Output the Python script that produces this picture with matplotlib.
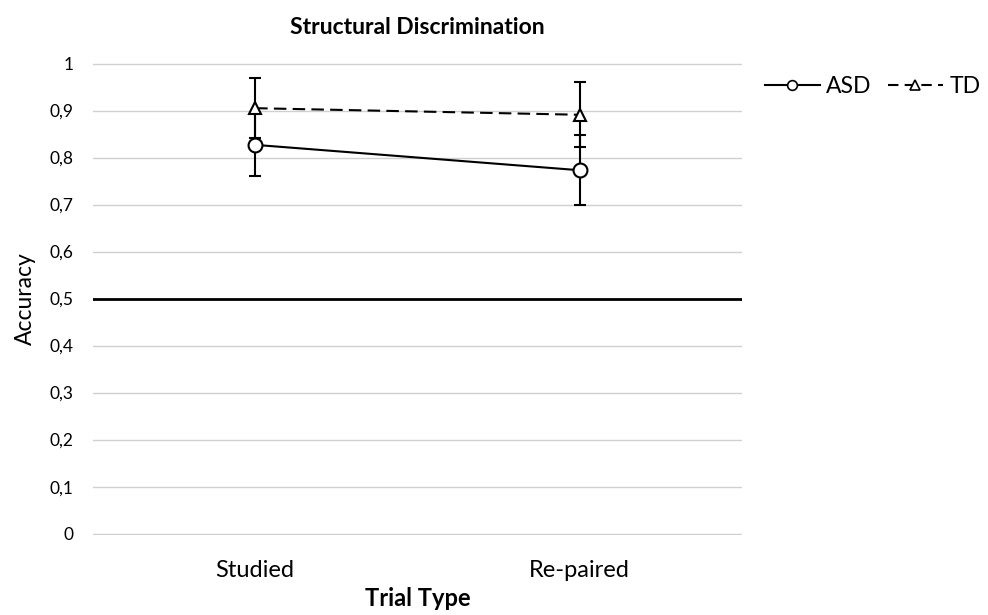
import numpy as np
import matplotlib.pyplot as plt
from matplotlib.lines import Line2D

plt.rc("font", family=["Lato", "DejaVu Sans"])

categories = ["Studied", "Re-paired"]
asd_mean = [0.827, 0.773]
asd_err = [0.067, 0.075]
td_mean = [0.905, 0.891]
td_err = [0.064, 0.069]
yticks = np.arange(0, 1.01, 0.1)
ytick_labels = ["0", "0,1", "0,2", "0,3", "0,4", "0,5", "0,6", "0,7", "0,8", "0,9", "1"]
chance = 0.5

fig = plt.figure(figsize=(9.88, 6.15), dpi=100)
ax = fig.add_axes([0.094, 0.130, 0.657, 0.769])

x = np.arange(len(categories))
dash = (0, (6, 3))

ax.errorbar(x, asd_mean, yerr=asd_err, color="black", lw=1.5, capsize=4,
            marker="o", markersize=10, markerfacecolor="white",
            markeredgewidth=1.5, zorder=4)
ax.errorbar(x, td_mean, yerr=td_err, color="black", lw=1.5, capsize=4,
            marker="^", markersize=9, markerfacecolor="white",
            markeredgewidth=1.5, linestyle=dash, zorder=4)

ax.axhline(chance, color="black", lw=2, zorder=3)

ax.set_xlim(-0.5, 1.5)
ax.set_ylim(-0.003, 1.003)
ax.set_yticks(yticks)
ax.set_yticklabels(ytick_labels)
ax.set_xticks(x)
ax.set_xticklabels(categories, fontsize=17)
ax.tick_params(axis="y", length=0, pad=14, labelsize=12.5)
ax.tick_params(axis="x", length=0, pad=18)
ax.grid(axis="y", color="#d0d0d0", lw=1, zorder=0)
for s in ax.spines.values():
    s.set_visible(False)

ax.set_xlabel("Trial Type", fontsize=17, fontweight="bold", labelpad=4)
ax.set_ylabel("Accuracy", fontsize=16.5, labelpad=10)
ax.set_title("Structural Discrimination", fontsize=16.5, fontweight="bold", pad=20)

handles = [
    Line2D([], [], color="black", lw=1.5, marker="o", markersize=7,
           markerfacecolor="white", markeredgewidth=1.2),
    Line2D([], [], color="black", lw=1.5, marker="^", markersize=7,
           markerfacecolor="white", markeredgewidth=1.2, linestyle=(0, (5, 3))),
]
ax.legend(handles, ["ASD", "TD"], loc="upper left", bbox_to_anchor=(1.003, 1.015),
          ncol=2, frameon=False, fontsize=16.5, handlelength=2.4,
          handletextpad=0.3, columnspacing=0.7)

plt.savefig("out.png", dpi=100)
